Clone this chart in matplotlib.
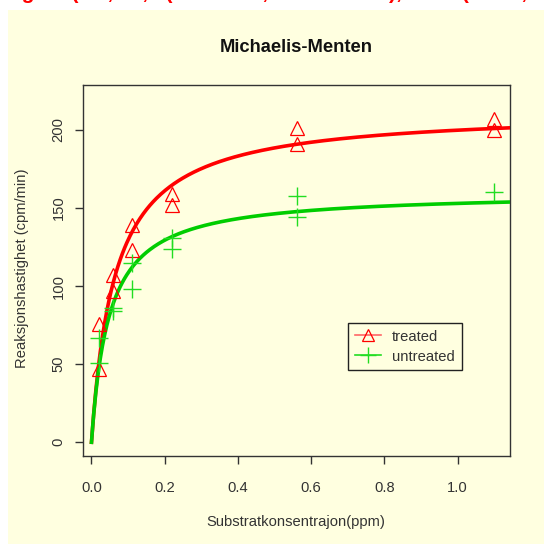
import numpy as np
import matplotlib
matplotlib.use("Agg")
import matplotlib.pyplot as plt
from matplotlib.lines import Line2D
from matplotlib.patches import Rectangle

# Puromycin reaction velocities
conc_treated = [0.02, 0.02, 0.06, 0.06, 0.11, 0.11, 0.22, 0.22, 0.56, 0.56, 1.10, 1.10]
rate_treated = [76, 47, 97, 107, 123, 139, 159, 152, 191, 201, 207, 200]
conc_untreated = [0.02, 0.02, 0.06, 0.06, 0.11, 0.11, 0.22, 0.22, 0.56, 0.56, 1.10]
rate_untreated = [67, 51, 84, 86, 98, 115, 131, 124, 144, 158, 160]

# Fitted Michaelis-Menten parameters (Vm, K)
vm_treated, k_treated = 212.68, 0.06412
vm_untreated, k_untreated = 160.28, 0.04771

x_ticks = [0.0, 0.2, 0.4, 0.6, 0.8, 1.0]
y_ticks = [0, 50, 100, 150, 200]

BG = "#FFFFE0"
RED = "#FF0000"
GREEN = "#00CD00"
FS = 10.6

W = H = 544
fig = plt.figure(figsize=(5.44, 5.44), dpi=100, facecolor="white")
fig.patches.append(Rectangle((8 / W, 0), 1 - 8 / W, 1 - 10 / H,
                             transform=fig.transFigure, facecolor=BG,
                             edgecolor="none", zorder=-10))

# code line running along the top edge
fig.text(4 / W, 1 + 1 / H, 'legend(0.7, 80, c("treated", "untreated"), col=c("red", "green"), pch=c(2, 3))',
         color=RED, fontsize=15, fontweight="bold", family="Liberation Sans",
         ha="left", va="baseline")

ax = fig.add_axes([83 / W, 1 - 456 / H, (510 - 83) / W, (456 - 85) / H])
ax.set_facecolor(BG)

def mm(x, vm, k):
    return vm * x / (k + x)

xs = np.linspace(0, 1.2, 400)
ax.plot(xs, mm(xs, vm_treated, k_treated), color=RED, lw=2.6, zorder=3)
ax.plot(xs, mm(xs, vm_untreated, k_untreated), color=GREEN, lw=2.6, zorder=3)

ax.plot(conc_treated, rate_treated, linestyle="none", marker="^", ms=10,
        mfc="none", mec=RED, mew=0.9, zorder=4)
ax.plot(conc_untreated, rate_untreated, linestyle="none", marker="+", ms=13,
        mec="#22DD22", mew=1.0, zorder=4)

xr = 1.10 - 0.02
ax.set_xlim(0.02 - 0.04 * xr, 1.10 + 0.04 * xr)
ax.set_ylim(-8.8, 228.8)
ax.set_xticks(x_ticks)
ax.set_xticklabels([f"{v:.1f}" for v in x_ticks])
ax.set_yticks(y_ticks)
ax.set_yticklabels([str(v) for v in y_ticks], rotation=90, va="center")

for s in ax.spines.values():
    s.set_color("#333333")
    s.set_linewidth(1.0)
ax.tick_params(direction="out", length=5.5, width=1.0, color="#333333",
               labelsize=FS, labelcolor="#333333")
ax.tick_params(axis="x", pad=12.5)
ax.tick_params(axis="y", pad=7)
for lab in ax.get_xticklabels() + ax.get_yticklabels():
    lab.set_family("Liberation Sans")

fig.text(296 / W, 1 - 48 / H, "Michaelis-Menten", ha="center", va="center",
         fontsize=13.2, fontweight="bold", family="Liberation Sans", color="#111111")
fig.text(296 / W, 1 - 522 / H, "Substratkonsentrajon(ppm)", ha="center", va="center",
         fontsize=FS, family="Liberation Sans", color="#333333")
fig.text(22 / W, 1 - 268 / H, "Reaksjonshastighet (cpm/min)", ha="center", va="center",
         rotation=90, fontsize=FS, family="Liberation Sans", color="#333333")

handles = [
    Line2D([], [], color="#FF6666", lw=1.2, marker="^", ms=8, mfc="none", mec=RED, mew=0.9),
    Line2D([], [], color="#22DD22", lw=1.2, marker="+", ms=11, mec="#22DD22", mew=1.0),
]
leg = ax.legend(handles, ["treated", "untreated"], loc="upper left",
                bbox_to_anchor=(348 / W, 1 - 323 / H), bbox_transform=fig.transFigure,
                borderaxespad=0, fancybox=False, framealpha=1, facecolor=BG,
                edgecolor="#222222", prop={"family": "Liberation Sans", "size": FS},
                handlelength=1.8, handletextpad=0.75, labelspacing=0.4,
                borderpad=0.45)
leg.get_frame().set_linewidth(1.0)
for t in leg.get_texts():
    t.set_color("#333333")

fig.savefig("out.png", dpi=100, facecolor=fig.get_facecolor())
